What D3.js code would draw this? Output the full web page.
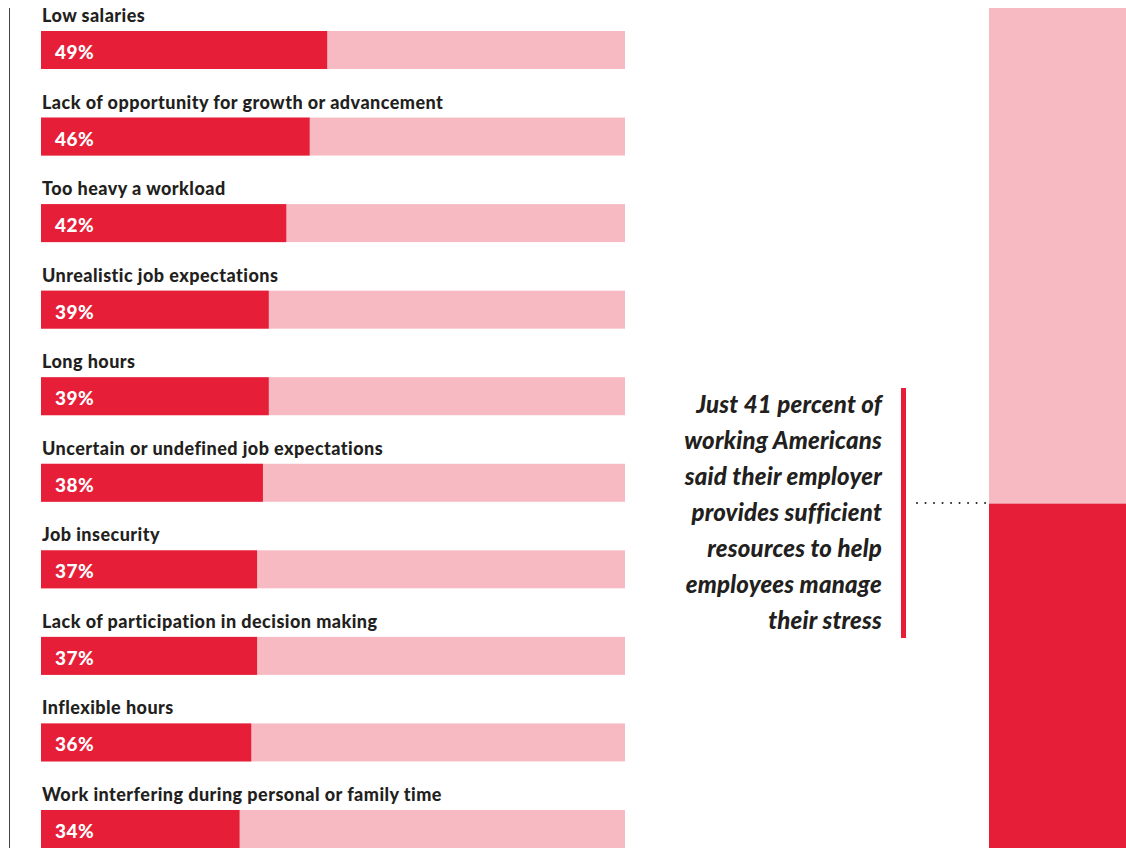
<!DOCTYPE html>
<html>
<head>
<meta charset="utf-8">
<script src="https://cdn.jsdelivr.net/npm/d3@7"></script>
<style>
  html, body { margin: 0; padding: 0; background: #fff; }
  svg { display: block; }
</style>
</head>
<body>
<svg id="chart" width="1126" height="848"></svg>
<script>
// Workplace stress sources (share of respondents, %)
const categories = [
  "Low salaries",
  "Lack of opportunity for growth or advancement",
  "Too heavy a workload",
  "Unrealistic job expectations",
  "Long hours",
  "Uncertain or undefined job expectations",
  "Job insecurity",
  "Lack of participation in decision making",
  "Inflexible hours",
  "Work interfering during personal or family time"
];
const values = [49, 46, 42, 39, 39, 38, 37, 37, 36, 34];

// Share saying employer provides sufficient stress resources
const resourcesShare = 41;
const calloutLines = [
  "Just 41 percent of",
  "working Americans",
  "said their employer",
  "provides sufficient",
  "resources to help",
  "employees manage",
  "their stress"
];

const RED = "#e61e38";
const PINK = "#f7bac2";
const INK = "#231f20";
const FONT = "Lato, 'Open Sans', sans-serif";

const svg = d3.select("#chart");

// Thin rule on the left edge
svg.append("line")
  .attr("x1", 9.5).attr("x2", 9.5)
  .attr("y1", 8).attr("y2", 848)
  .attr("stroke", "#444").attr("stroke-width", 1);

// Horizontal bar scales
const x = d3.scaleLinear().domain([0, 100]).range([41, 625]);
const y = d3.scaleBand()
  .domain(categories)
  .range([31, 848])
  .paddingInner(0.561)
  .paddingOuter(0);

const rows = svg.append("g").selectAll("g")
  .data(categories.map((c, i) => ({ cat: c, val: values[i] })))
  .join("g")
  .attr("transform", d => `translate(0,${y(d.cat)})`);

// Background (100%) bar
rows.append("rect")
  .attr("x", x(0)).attr("y", 0)
  .attr("width", x(100) - x(0))
  .attr("height", y.bandwidth())
  .attr("fill", PINK);

// Value bar
rows.append("rect")
  .attr("x", x(0)).attr("y", 0)
  .attr("width", d => x(d.val) - x(0))
  .attr("height", y.bandwidth())
  .attr("fill", RED);

// Category label
rows.append("text")
  .attr("x", 42).attr("y", -9)
  .attr("font-family", FONT)
  .attr("font-weight", 900)
  .attr("font-size", 18)
  .attr("letter-spacing", 0.45)
  .attr("fill", INK)
  .text(d => d.cat);

// Value label
rows.append("text")
  .attr("x", 55).attr("y", 28)
  .attr("font-family", FONT)
  .attr("font-weight", 900)
  .attr("font-size", 19)
  .attr("letter-spacing", 0.5)
  .attr("fill", "#fff")
  .text(d => d.val + "%");

// Stacked 100% column on the right
const yCol = d3.scaleLinear().domain([0, 100]).range([848, 8]);
const colX = 989, colW = 1126 - 989;
svg.append("rect")
  .attr("x", colX).attr("y", yCol(100))
  .attr("width", colW).attr("height", yCol(resourcesShare) - yCol(100))
  .attr("fill", PINK);
svg.append("rect")
  .attr("x", colX).attr("y", yCol(resourcesShare))
  .attr("width", colW).attr("height", yCol(0) - yCol(resourcesShare))
  .attr("fill", RED);

// Dotted leader to the split point
svg.append("line")
  .attr("x1", 917).attr("x2", 986)
  .attr("y1", yCol(resourcesShare) - 0.5).attr("y2", yCol(resourcesShare) - 0.5)
  .attr("stroke", INK)
  .attr("stroke-width", 2)
  .attr("stroke-linecap", "round")
  .attr("stroke-dasharray", "0.01 8.5");

// Red accent rule beside the callout
svg.append("rect")
  .attr("x", 901).attr("y", 388)
  .attr("width", 5).attr("height", 250)
  .attr("fill", RED);

// Callout text
svg.append("g").selectAll("text")
  .data(calloutLines)
  .join("text")
  .attr("x", 882)
  .attr("y", (d, i) => 413 + i * 36)
  .attr("text-anchor", "end")
  .attr("font-family", FONT)
  .attr("font-weight", 900)
  .attr("font-style", "italic")
  .attr("font-size", 24)
  .attr("letter-spacing", 0.2)
  .attr("fill", INK)
  .text(d => d);
</script>
</body>
</html>
